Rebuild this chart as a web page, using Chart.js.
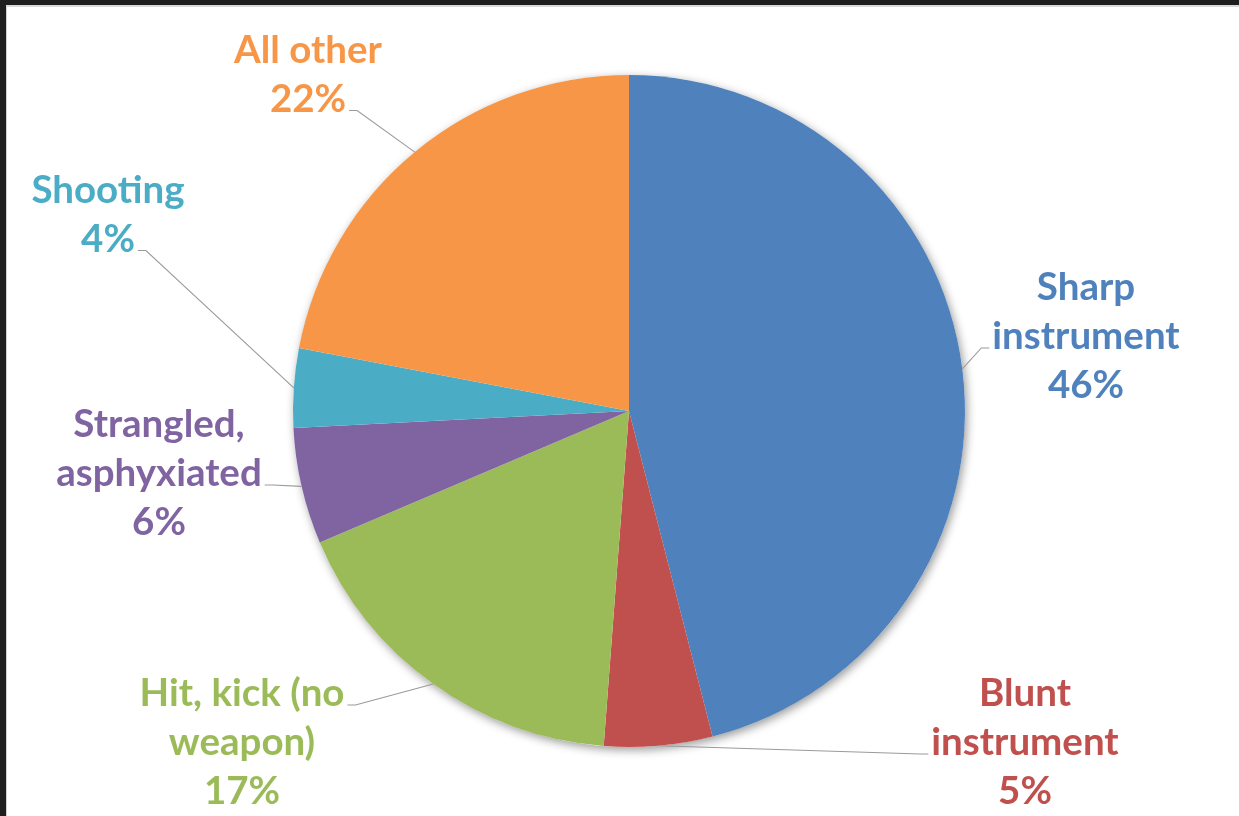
<!DOCTYPE html>
<html>
<head>
<meta charset="utf-8">
<script src="https://cdn.jsdelivr.net/npm/chart.js@4/dist/chart.umd.min.js"></script>
<style>
  html, body { margin: 0; padding: 0; width: 1239px; height: 816px; overflow: hidden; background: #1e1e1e; }
  #sheet { position: absolute; left: 6px; top: 5px; width: 1233px; height: 811px; background: #ffffff;
           border-top: 2px solid #d9d9d9; border-left: 1px solid #d0d0d0; box-sizing: border-box; }
  #wrap { position: absolute; left: 0; top: 0; width: 1239px; height: 816px; }
</style>
</head>
<body>
<div id="sheet"></div>
<div id="wrap"><canvas id="c" width="1239" height="816"></canvas></div>
<script>
// ---- data ----
const categories = ['Sharp instrument', 'Blunt instrument', 'Hit, kick (no weapon)', 'Strangled, asphyxiated', 'Shooting', 'All other'];
const labelLines = [['Sharp', 'instrument'], ['Blunt', 'instrument'], ['Hit, kick (no', 'weapon)'], ['Strangled,', 'asphyxiated'], ['Shooting'], ['All other']];
const shares = [46.0, 5.2, 17.4, 5.6, 3.8, 22.0];
const colors = ['#4F81BD', '#C0504D', '#9BBB59', '#8064A2', '#4BACC6', '#F79646'];

// ---- label layout (block centre relative to pie centre, in px for radius 336; attach line & side) ----
const labelLayout = [
  { dx: 457, dy: -74, line: 1, side: 'left' },
  { dx: 396, dy: 332, line: 1, side: 'left' },
  { dx: -387, dy: 332, line: 0, side: 'right' },
  { dx: -470, dy: 63, line: 1, side: 'right' },
  { dx: -521, dy: -196, line: 1, side: 'right' },
  { dx: -321, dy: -336, line: 1, side: 'right' }
];
const FONT = 'bold 38.5px Lato, "Open Sans", sans-serif';
const LINE_H = 49;

const pieShadow = {
  id: 'pieShadow',
  beforeDatasetsDraw(chart) {
    const arc = chart.getDatasetMeta(0).data[0];
    if (!arc) return;
    const ctx = chart.ctx;
    ctx.save();
    ctx.shadowColor = 'rgba(0,0,0,0.4)';
    ctx.shadowBlur = 10;
    ctx.shadowOffsetX = 2;
    ctx.shadowOffsetY = 3;
    ctx.fillStyle = '#ffffff';
    ctx.beginPath();
    ctx.arc(arc.x, arc.y, arc.outerRadius, 0, Math.PI * 2);
    ctx.fill();
    ctx.restore();
  }
};

const outsideLabels = {
  id: 'outsideLabels',
  afterDatasetsDraw(chart) {
    const ctx = chart.ctx;
    const meta = chart.getDatasetMeta(0);
    const data = chart.data.datasets[0].data;
    const total = data.reduce((a, b) => a + b, 0);
    ctx.save();
    ctx.font = FONT;
    ctx.textAlign = 'center';
    ctx.textBaseline = 'middle';
    meta.data.forEach((arc, i) => {
      const R = arc.outerRadius;
      const k = R / 336;
      const lay = labelLayout[i];
      const lines = labelLines[i].concat([Math.round(data[i] / total * 100) + '%']);
      const cx = arc.x + lay.dx * k;
      const cy0 = arc.y + lay.dy * k - (lines.length - 1) * LINE_H / 2;
      // leader line
      const mid = (arc.startAngle + arc.endAngle) / 2;
      const ex = arc.x + Math.cos(mid) * R;
      const ey = arc.y + Math.sin(mid) * R;
      const w = ctx.measureText(lines[lay.line]).width;
      const ly = cy0 + lay.line * LINE_H + 11;
      const lx = lay.side === 'left' ? cx - w / 2 - 3 : cx + w / 2 + 3;
      const elbow = lay.side === 'left' ? lx - 8 : lx + 8;
      ctx.strokeStyle = '#9a9a9a';
      ctx.lineWidth = 1.1;
      ctx.beginPath();
      ctx.moveTo(lx, ly);
      ctx.lineTo(elbow, ly);
      ctx.lineTo(ex, ey);
      ctx.stroke();
      ctx.fillStyle = colors[i];
      lines.forEach((t, j) => ctx.fillText(t, cx, cy0 + j * LINE_H));
    });
    ctx.restore();
  }
};

new Chart(document.getElementById('c'), {
  type: 'pie',
  data: {
    labels: categories,
    datasets: [{ data: shares, backgroundColor: colors, borderWidth: 0 }]
  },
  options: {
    responsive: false,
    animation: false,
    layout: { padding: { left: 293, right: 274, top: 75, bottom: 69 } },
    plugins: { legend: { display: false }, tooltip: { enabled: false } }
  },
  plugins: [pieShadow, outsideLabels]
});
</script>
</body>
</html>
